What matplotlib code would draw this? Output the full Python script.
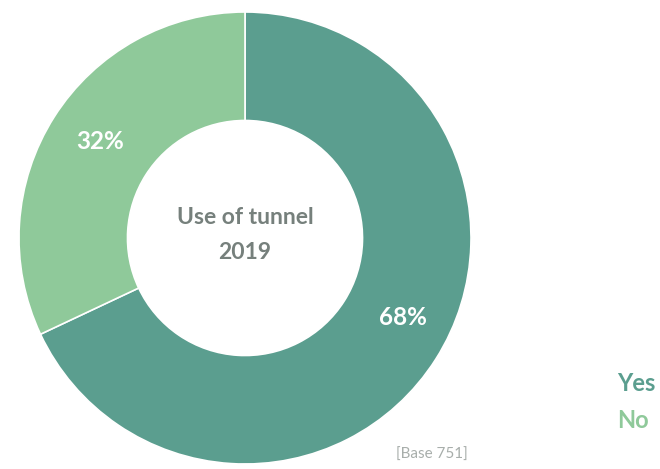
import numpy as np
import matplotlib.pyplot as plt

categories = ['Yes', 'No']
values = [68, 32]
colors = ['#5b9e8f', '#8fc99a']
title_lines = ['Use of tunnel', '2019']
base_note = '[Base 751]'

plt.rcParams['font.family'] = ['Lato', 'DejaVu Sans']

fig = plt.figure(figsize=(6.6, 4.69), dpi=100)
ax = fig.add_axes([19 / 660, 5 / 469, 452 / 660, 452 / 469])

wedges, _ = ax.pie(values, colors=colors, startangle=90, counterclock=False,
                   radius=1.0, wedgeprops=dict(width=0.48, edgecolor='white', linewidth=1.2))
ax.set_aspect('equal')
ax.set_xlim(-1, 1)
ax.set_ylim(-1, 1)

# percentage labels (angle in degrees, radius)
label_pos = [(-26.7, 0.78), (146.3, 0.77)]
for v, (ang, r) in zip(values, label_pos):
    a = np.deg2rad(ang)
    ax.text(r * np.cos(a), r * np.sin(a), f'{v}%', color='white', fontsize=17.5,
            fontweight='bold', ha='center', va='center')

ax.text(0, 0.09, title_lines[0], color='#76807c', fontsize=16.5, fontweight='bold',
        ha='center', va='center')
ax.text(0, -0.065, title_lines[1], color='#76807c', fontsize=16.5, fontweight='bold',
        ha='center', va='center')

fig.text(432 / 660, 1 - 455 / 469, base_note, color='#a8aeab', fontsize=11,
         ha='center', va='center')

for i, (cat, c) in enumerate(zip(categories, colors)):
    fig.text(617 / 660, 1 - (383 + 37 * i) / 469, cat, color=c, fontsize=17,
             fontweight='bold', ha='left', va='center')

fig.savefig('out.png', dpi=100, facecolor='white')
